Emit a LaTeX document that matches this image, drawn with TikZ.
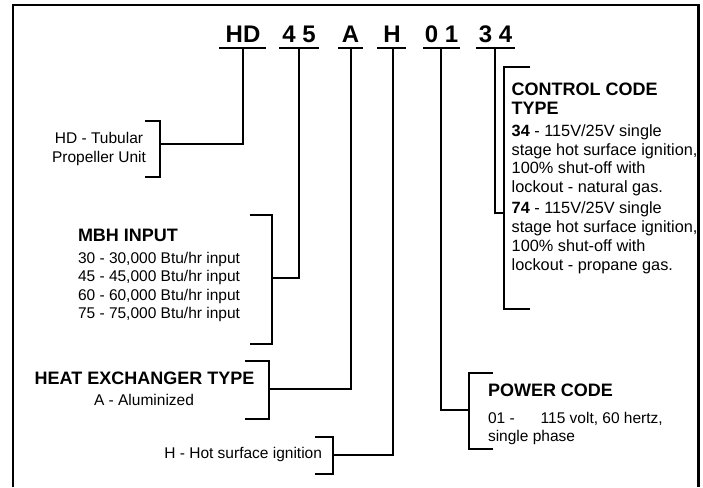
\documentclass[tikz,border=0pt]{standalone}
\usepackage{fontspec}
\setmainfont{Liberation Sans}
\begin{document}
\begin{tikzpicture}[x=1pt,y=-1pt,
  line width=2pt, line join=miter, line cap=butt,
  code/.style={font=\fontsize{24}{24}\selectfont\bfseries, inner sep=0, anchor=base},
  txt/.style={font=\fontsize{15.5}{18}\selectfont, inner sep=0, anchor=base west},
  txtc/.style={txt, anchor=base},
  txte/.style={txt, anchor=base east},
  head/.style={font=\fontsize{18}{20}\selectfont\bfseries, inner sep=0, anchor=base west},
  headc/.style={head, anchor=base},
  ctl/.style={font=\fontsize{16.3}{19}\selectfont, inner sep=0, anchor=base west},
  link/.style={line width=2pt},
  brk/.style={line width=2.2pt}]
\useasboundingbox (0,0) rectangle (703,487);

% frame (open at the bottom)
\draw[line width=2pt] (13,487) -- (13,5) -- (698,5);
\draw[line width=3pt] (698,4) -- (698,487);

% code letters with underlines
\node[code] (hd) at (243,43) {HD};
\node[code] (mbh) at (299,43) {4 5};
\node[code] (hx) at (350.5,43) {A};
\node[code] (ig) at (392,43) {H};
\node[code] (pw) at (441.5,43) {0 1};
\node[code] (cc) at (495.5,43) {3 4};
\coordinate (hdS) at (243,48);
\coordinate (mbhS) at (299,48);
\coordinate (hxS) at (351,48);
\coordinate (igS) at (393,48);
\coordinate (pwS) at (441,48);
\coordinate (ccS) at (495,48);
\draw (219,48) -- (266,48);
\draw (279,48) -- (319,48);
\draw (338,48) -- (363,48);
\draw (377,48) -- (406,48);
\draw (423,48) -- (460,48);
\draw (476,48) -- (515,48);

% HD - Tubular propeller unit
\node[txtc] (hdt1) at (99,143) {HD - Tubular};
\node[txtc] (hdt2) at (99,162) {Propeller Unit};
\draw[brk] (145,121) -- (160,121) -- (160,177) -- (145,177);
\coordinate (hdB) at (160,144);
\draw[link] (hdS) |- (hdB);

% MBH input
\node[head] (mbhh) at (77,241.7) {MBH INPUT};
\node[txt] (mbh1) at (77,263) {30 - 30,000 Btu/hr input};
\node[txt] (mbh2) at (77,281.5) {45 - 45,000 Btu/hr input};
\node[txt] (mbh3) at (77,300) {60 - 60,000 Btu/hr input};
\node[txt] (mbh4) at (77,318) {75 - 75,000 Btu/hr input};
\draw[brk] (250,215) -- (272,215) -- (272,344) -- (250,344);
\coordinate (mbhB) at (272,277.5);
\draw[link] (mbhS) |- (mbhB);

% Heat exchanger type
\node[headc] (hxh) at (144.5,384) {HEAT EXCHANGER TYPE};
\node[txtc] (hx1) at (144,405) {A - Aluminized};
\draw[brk] (245,361) -- (269,361) -- (269,419) -- (245,419);
\coordinate (hxB) at (269,389);
\draw[link] (hxS) |- (hxB);

% Ignition
\node[txte] (ig1) at (323,458.3) {H - Hot surface ignition};
\draw[brk] (315,437) -- (333,437) -- (333,474) -- (315,474);
\coordinate (igB) at (333,455);
\draw[link] (igS) |- (igB);

% Power code
\node[head] (pwh) at (487,396.7) {POWER CODE};
\node[txt] (pw1) at (487,423.3) {01 -\hspace{26pt}115 volt, 60 hertz,};
\node[txt] (pw2) at (487,441) {single phase};
\draw[brk] (493,373) -- (469,373) -- (469,449) -- (493,449);
\coordinate (pwB) at (469,410);
\draw[link] (pwS) |- (pwB);

% Control code type
\node[head] (cch1) at (510.7,95) {CONTROL CODE};
\node[head] (cch2) at (510.7,114.3) {TYPE};
\node[ctl] (cc1) at (510.7,136) {\textbf{34} - 115V/25V single};
\node[ctl] (cc2) at (510.7,155) {stage hot surface ignition,};
\node[ctl] (cc3) at (510.7,173.3) {100\% shut-off with};
\node[ctl] (cc4) at (510.7,192.3) {lockout - natural gas.};
\node[ctl] (cc5) at (510.7,213.3) {\textbf{74} - 115V/25V single};
\node[ctl] (cc6) at (510.7,232.7) {stage hot surface ignition,};
\node[ctl] (cc7) at (510.7,251) {100\% shut-off with};
\node[ctl] (cc8) at (510.7,270) {lockout - propane gas.};
\draw[brk] (530,67) -- (504,67) -- (504,309) -- (530,309);
\coordinate (ccB) at (504,213);
\draw[link] (ccS) |- (ccB);
\end{tikzpicture}
\end{document}
